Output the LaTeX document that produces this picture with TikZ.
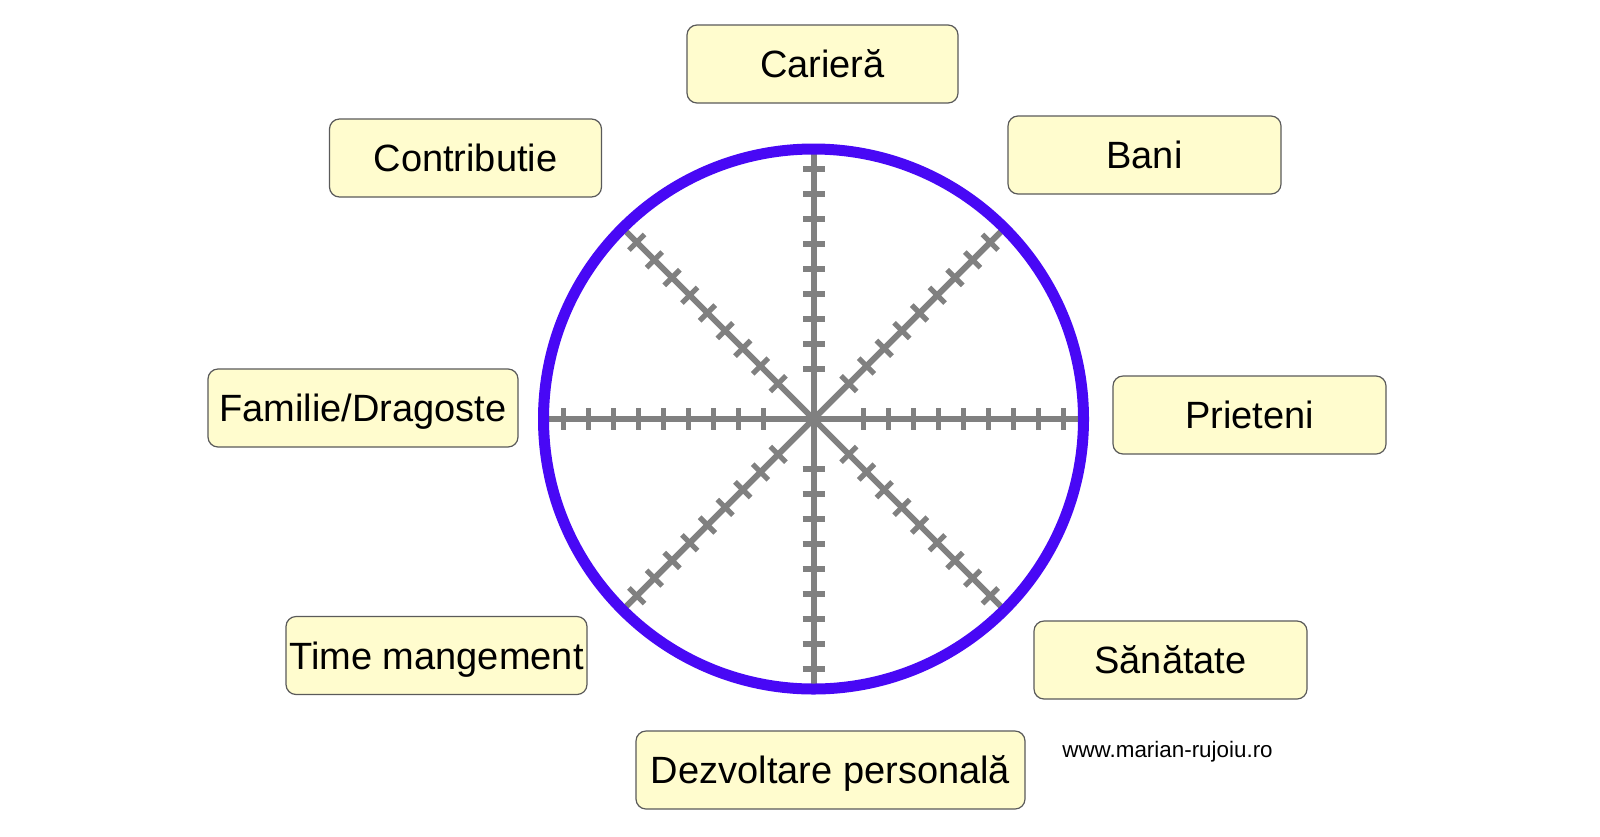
\documentclass[tikz,border=0pt]{standalone}
\usepackage{fontspec}
\setmainfont{Liberation Sans}
\definecolor{ringblue}{RGB}{72,8,245}
\definecolor{spokegray}{RGB}{128,128,128}
\definecolor{boxfill}{RGB}{255,252,206}
\definecolor{boxline}{RGB}{90,90,90}
\tikzset{
  lbl/.style={draw=boxline, line width=0.6pt, fill=boxfill, rounded corners=5pt,
    inner sep=0pt, minimum height=39pt, text height=13.6pt, text depth=0pt,
    font=\fontsize{19}{22}\selectfont},
  spoke/.style={draw=spokegray, line width=3pt, line cap=butt},
  tickmark/.style={draw=spokegray, line width=2.6pt, line cap=butt},
  ring/.style={draw=ringblue, line width=5.5pt},
}
\begin{document}
\begin{tikzpicture}[x=0.5pt,y=-0.5pt]
\fill[white] (0,0) rectangle (1600,836);
\useasboundingbox (0,0) rectangle (1600,836);
\coordinate (c) at (813.5,419);
% spokes with tick marks
\foreach \a in {0,45,...,315} {
  \draw[spoke] (c) -- ++(\a:265);
  \foreach \d in {50,75,...,250}
    \draw[tickmark] ([shift={(\a:\d)}]c) ++(\a+90:11) -- ++(\a-90:22);
}
% ring
\draw[ring] (c) circle[radius=270];
% labels
\node[lbl, minimum width=135.5pt] (cariera) at (822.5,64) {Carieră};
\node[lbl, minimum width=136pt] (contrib) at (465.5,158) {Contributie};
\node[lbl, minimum width=136.5pt] (bani) at (1144.5,155) {Bani};
\node[lbl, minimum width=155pt] (familie) at (363,408) {Familie/Dragoste};
\node[lbl, minimum width=136.5pt] (prieteni) at (1249.5,415) {Prieteni};
\node[lbl, minimum width=150.5pt] (time) at (436.5,655.5) {Time mangement};
\node[lbl, minimum width=136.5pt] (sanatate) at (1170.5,660) {Sănătate};
\node[lbl, minimum width=194.5pt] (dezv) at (830.5,770) {Dezvoltare personală};
\node[anchor=base, inner sep=0pt, font=\fontsize{11.2}{13}\selectfont] (web) at (1167.5,757) {www.marian-rujoiu.ro};
\end{tikzpicture}
\end{document}
